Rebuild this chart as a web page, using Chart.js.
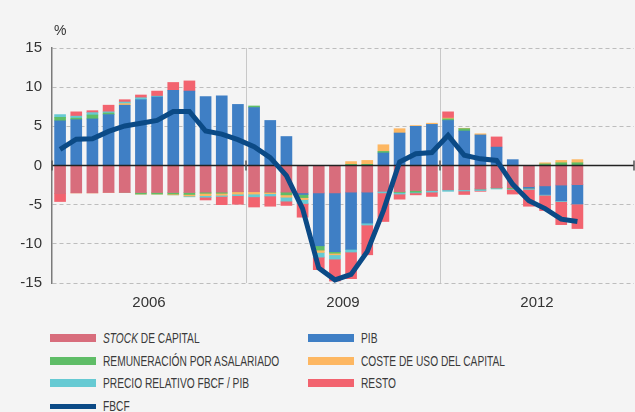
<!DOCTYPE html>
<html>
<head>
<meta charset="utf-8">
<script src="https://cdn.jsdelivr.net/npm/chart.js@4.4.1/dist/chart.umd.min.js"></script>
<style>
  html, body { margin: 0; padding: 0; background: #f4f4f4; }
  body { width: 635px; height: 412px; overflow: hidden; position: relative;
         font-family: "Liberation Sans", Arial, sans-serif; color: #3a3a3a; }
  #wrap { position: absolute; left: 0; top: 0; width: 635px; height: 316px; }
  .sw { position: absolute; width: 46px; height: 8px; }
  .lt { position: absolute; font-size: 15px; line-height: 16px; white-space: nowrap;
        transform: scaleX(0.68); transform-origin: 0 50%; }
</style>
</head>
<body>
<div id="wrap"><canvas id="myChart"></canvas></div>
<div id="legend"></div>
<script>
// trimestres 2005-2013 (datos hasta 2013 T1)
const quarters = [
  '2005 T1', '2005 T2', '2005 T3', '2005 T4',
  '2006 T1', '2006 T2', '2006 T3', '2006 T4',
  '2007 T1', '2007 T2', '2007 T3', '2007 T4',
  '2008 T1', '2008 T2', '2008 T3', '2008 T4',
  '2009 T1', '2009 T2', '2009 T3', '2009 T4',
  '2010 T1', '2010 T2', '2010 T3', '2010 T4',
  '2011 T1', '2011 T2', '2011 T3', '2011 T4',
  '2012 T1', '2012 T2', '2012 T3', '2012 T4',
  '2013 T1', '2013 T2', '2013 T3', '2013 T4'
];
const yearLabels = ['2006', '2009', '2012'];

const stockCapital = [-3.6, -3.5, -3.5, -3.45, -3.45, -3.45, -3.45, -3.45, -3.45, -3.4, -3.4, -3.35,
  -3.35, -3.4, -3.4, -3.5, -3.5, -3.5, -3.4, -3.4, -3.3, -3.35, -3.2, -3.2,
  -3.1, -3.1, -3.0, -2.85, -2.85, -2.7, -2.6, -2.5, -2.45];
const pib = [5.7, 5.85, 5.95, 6.5, 7.7, 8.4, 8.75, 9.6, 9.5, 8.8, 8.9, 7.8,
  7.4, 5.75, 3.7, -0.2, -6.75, -7.5, -7.3, -3.95, 1.6, 4.15, 5.0, 5.25,
  5.75, 4.4, 3.9, 2.35, 0.75, -0.2, -1.1, -2.0, -2.45];
const remuneracion = [0.45, 0.2, 0.5, 0.2, 0, -0.2, -0.2, -0.2, -0.25, -0.15, -0.15, 0,
  0.2, 0, -0.35, -0.4, -0.55, -0.2, 0.15, 0.15, 0.2, -0.1, -0.2, 0,
  0.2, 0.3, 0, 0, -0.1, 0, 0.2, 0.35, 0.35];
const costeUso = [0, 0, 0, 0, 0.2, 0, 0, -0.1, -0.2, -0.3, -0.25, -0.3,
  -0.3, -0.2, -0.3, -0.25, -0.3, -0.2, 0.35, 0.5, 0.85, 0.55, 0.1, 0.15,
  0.1, 0.05, 0.15, 0, 0, 0, 0.15, 0.3, 0.4];
const precioRelativo = [0.35, 0.25, 0.3, 0.15, 0.2, 0.25, 0.1, 0, -0.1, -0.2, -0.15, -0.2,
  -0.35, -0.3, -0.5, -0.5, -0.6, -0.55, -0.35, -0.25, -0.2, -0.2, -0.1, -0.2,
  -0.2, -0.15, -0.2, -0.15, -0.1, -0.15, -0.1, -0.1, 0];
const resto = [-1.0, 0.55, 0.25, 0.85, 0.3, 0.35, 0.65, 1.0, 1.3, -0.35, -1.05, -1.1,
  -1.3, -1.3, -0.55, -1.75, -1.6, -2.8, -3.4, -3.8, -3.65, -0.65, -0.25, -0.55,
  0.8, -0.45, -0.1, 1.3, -0.6, -2.15, -1.95, -2.95, -3.15];
const fbcf = [2.05, 3.35, 3.4, 4.35, 5.05, 5.4, 5.75, 6.9, 6.9, 4.4, 4.0, 3.3,
  2.4, 1.0, -1.3, -5.5, -13.1, -14.6, -13.9, -11.0, -5.75, 0.45, 1.5, 1.65,
  3.85, 1.3, 0.85, 0.65, -2.4, -4.5, -5.5, -6.85, -7.15];

const FONT = '"Liberation Sans", Arial, sans-serif';

function barSet(label, data, color) {
    return {
        type: 'bar', label: label, data: data, backgroundColor: color,
        borderWidth: 0, barThickness: 11, order: 1, stack: 'bars',
        xAxisID: 'x', yAxisID: 'y'
    };
}

// linea del cero y marcas en los cortes de año
const zeroLine = {
    id: 'zeroLine',
    beforeDatasetDraw(chart, args) {
        if (args.meta.type !== 'line') return;
        const { ctx, chartArea, scales } = chart;
        const y0 = scales.y.getPixelForValue(0);
        const x2 = scales.x2;
        const half = (x2.getPixelForTick(1) - x2.getPixelForTick(0)) / 2;
        ctx.save();
        ctx.strokeStyle = '#222';
        ctx.lineWidth = 1.3;
        ctx.beginPath();
        ctx.moveTo(chartArea.left, y0);
        ctx.lineTo(chartArea.right, y0);
        ctx.stroke();
        ctx.strokeStyle = '#555';
        ctx.lineWidth = 1.5;
        ctx.beginPath();
        for (let i = 0; i <= yearLabels.length; i++) {
            const xx = x2.getPixelForTick(0) - half + i * 2 * half;
            ctx.moveTo(xx, y0 - 5);
            ctx.lineTo(xx, y0 + 5);
        }
        ctx.stroke();
        ctx.restore();
    },
    afterDraw(chart) {
        const ctx = chart.ctx;
        ctx.save();
        ctx.fillStyle = '#333';
        ctx.font = '14px ' + FONT;
        ctx.textBaseline = 'middle';
        ctx.fillText('%', 54, 31);
        ctx.restore();
    }
};

const ctx = document.getElementById('myChart').getContext('2d');
const chart = new Chart(ctx, {
    type: 'bar',
    data: {
        labels: quarters,
        datasets: [
            barSet('STOCK DE CAPITAL', stockCapital, '#d86d7c'),
            barSet('PIB', pib, '#3f7fc5'),
            barSet('REMUNERACIÓN POR ASALARIADO', remuneracion, '#5fbd67'),
            barSet('COSTE DE USO DEL CAPITAL', costeUso, '#fdb762'),
            barSet('PRECIO RELATIVO FBCF / PIB', precioRelativo, '#66cad3'),
            barSet('RESTO', resto, '#f2636f'),
            {
                type: 'line', label: 'FBCF', data: fbcf, borderColor: '#0b4a86',
                backgroundColor: '#0b4a86', borderWidth: 5, pointRadius: 0,
                tension: 0, order: 0, stack: 'line', xAxisID: 'x', yAxisID: 'y'
            }
        ]
    },
    options: {
        responsive: true,
        maintainAspectRatio: false,
        animation: false,
        layout: { padding: { top: 48, right: 1, left: 0, bottom: 0 } },
        plugins: { legend: { display: false }, tooltip: { enabled: false } },
        scales: {
            x: { type: 'category', labels: quarters, stacked: true, display: false, offset: true },
            x2: {
                type: 'category', labels: yearLabels, position: 'bottom', offset: true,
                grid: {
                    offset: true, drawTicks: false, lineWidth: 1,
                    color: c => (c.index === 1 || c.index === 2) ? '#c8c8c8' : 'rgba(0,0,0,0)'
                },
                border: { display: false },
                ticks: { color: '#333', font: { size: 15, family: FONT }, padding: 11, maxRotation: 0 },
                afterFit: s => { s.height = 33; }
            },
            y: {
                min: -15, max: 15, stacked: true,
                ticks: { stepSize: 5, color: '#333', font: { size: 15, family: FONT }, padding: 10 },
                grid: {
                    drawTicks: false,
                    color: c => (c.tick && c.tick.value === 0) ? 'rgba(0,0,0,0)' : '#bdbdbd'
                },
                border: {
                    display: true, color: '#7a7a7a', width: 1.5,
                    dash: c => (c.tick && c.tick.value !== 0) ? [4, 3] : []
                },
                afterFit: s => { s.width = 52; }
            }
        }
    },
    plugins: [zeroLine]
});

// leyenda en dos columnas
const legend = document.getElementById('legend');
chart.data.datasets.forEach((ds, i) => {
    const col = i % 2, row = Math.floor(i / 2);
    const cy = 338 + row * 22.7;
    const left = col === 0 ? 50 : 308;
    const sw = document.createElement('div');
    sw.className = 'sw';
    sw.style.left = left + 'px';
    sw.style.background = ds.type === 'line' ? ds.borderColor : ds.backgroundColor;
    const h = ds.type === 'line' ? 5 : 8;
    sw.style.height = h + 'px';
    sw.style.top = (cy - h / 2) + 'px';
    legend.appendChild(sw);
    const t = document.createElement('div');
    t.className = 'lt';
    t.style.left = (left + 53) + 'px';
    t.style.top = (cy - 8) + 'px';
    if (i === 0) {
        t.innerHTML = '<i>STOCK</i> DE CAPITAL';
    } else {
        t.textContent = ds.label;
    }
    legend.appendChild(t);
});
</script>
</body>
</html>
